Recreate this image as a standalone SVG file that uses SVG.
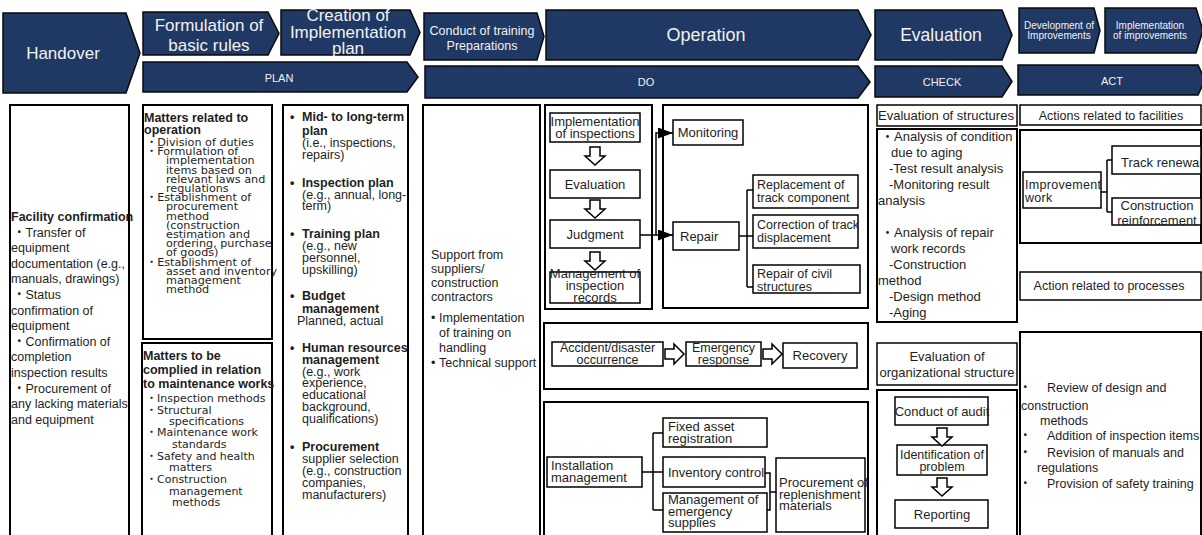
<svg xmlns="http://www.w3.org/2000/svg" width="1202" height="535" viewBox="0 0 1202 535">
<style>
  .hd { fill: #1f3864; stroke: #0a0a0a; stroke-width: 1.5; }
  .ht { fill: #f2f2f2; font-family: "Liberation Sans", "Noto Sans CJK JP", sans-serif; text-anchor: middle; }
  .ob { fill: #ffffff; stroke: #000000; stroke-width: 2; }
  .bx { fill: #ffffff; stroke: #000000; stroke-width: 1.5; }
  .t { font-family: "Liberation Sans", "Noto Sans CJK JP", sans-serif; font-size: 12.5px; fill: #1e1e1e; }
  .w { font-family: "DejaVu Sans", "Noto Sans CJK JP", sans-serif; fill: #1e1e1e; }
  .s13 { font-size: 13px; }
  .b { font-weight: bold; }
  .c { text-anchor: middle; }
  .ln { fill: none; stroke: #000000; stroke-width: 1.5; }
  .ba { fill: #ffffff; stroke: #000000; stroke-width: 1.5; stroke-linejoin: miter; }
</style>
<defs>
  <marker id="tri" markerUnits="userSpaceOnUse" markerWidth="15" markerHeight="11" refX="15" refY="5.5" orient="auto">
    <path d="M0,0 L15,5.5 L0,11 Z" fill="#000000"/>
  </marker>
  <path id="dn" d="M5,0 H15 V9 H20 L10,18 L0,9 H5 Z"/>
  <path id="rt" d="M0,5 H9 V0 L19,10 L9,20 V15 H0 Z"/>
</defs>

<rect x="0" y="0" width="1202" height="535" fill="#ffffff"/>

<!-- phase banners -->
<g id="hdr-handover">
  <polygon class="hd" points="3,13 126,13 140,53 126,93 3,93"/>
  <text class="ht" x="63" y="59" font-size="17">Handover</text>
</g>
<g id="hdr-basic-rules">
  <polygon class="hd" points="143,12 268,12 279,33.5 268,55 143,55"/>
  <text class="ht" x="209" y="31" font-size="17">Formulation of</text>
  <text class="ht" x="209" y="51" font-size="17">basic rules</text>
</g>
<g id="hdr-impl-plan">
  <polygon class="hd" points="281,10 410,10 420,32.5 410,55 281,55"/>
  <text class="ht" x="348" y="21" font-size="17">Creation of</text>
  <text class="ht" x="348" y="38" font-size="17">Implementation</text>
  <text class="ht" x="348" y="54" font-size="17">plan</text>
</g>
<g id="hdr-plan">
  <polygon class="hd" points="143,62 407,62 418,77 407,92 143,92"/>
  <text class="ht" x="279" y="82" font-size="11">PLAN</text>
</g>
<g id="hdr-training">
  <polygon class="hd" points="424,13 537,13 544,36.5 537,60 424,60"/>
  <text class="ht" x="482" y="34.5" font-size="12.5">Conduct of training</text>
  <text class="ht" x="482" y="49.5" font-size="12.5">Preparations</text>
</g>
<g id="hdr-operation">
  <polygon class="hd" points="546,10 858,10 871,35 858,60 546,60"/>
  <text class="ht" x="706" y="41" font-size="18">Operation</text>
</g>
<g id="hdr-evaluation">
  <polygon class="hd" points="875,10 1002,10 1012,35 1002,60 875,60"/>
  <text class="ht" x="941" y="41" font-size="17.5">Evaluation</text>
</g>
<g id="hdr-development">
  <polygon class="hd" points="1019,8 1094,8 1100,30.5 1094,53 1019,53"/>
  <text class="ht" x="1059" y="28.5" font-size="10">Development of</text>
  <text class="ht" x="1059" y="38.5" font-size="10">Improvements</text>
</g>
<g id="hdr-implementation">
  <polygon class="hd" points="1105,8 1196,8 1203,30.5 1196,53 1105,53"/>
  <text class="ht" x="1150" y="28.5" font-size="10">Implementation</text>
  <text class="ht" x="1150" y="38.5" font-size="10">of improvements</text>
</g>
<g id="hdr-do">
  <polygon class="hd" points="425,66 858,66 870,82 858,98 425,98"/>
  <text class="ht" x="646" y="86" font-size="11">DO</text>
</g>
<g id="hdr-check">
  <polygon class="hd" points="875,66 1002,66 1012,81.5 1002,97 875,97"/>
  <text class="ht" x="942" y="86" font-size="11">CHECK</text>
</g>
<g id="hdr-act">
  <polygon class="hd" points="1018,65 1198,65 1205,80 1198,95 1018,95"/>
  <text class="ht" x="1112" y="84.5" font-size="11">ACT</text>
</g>

<!-- handover -->
<g id="handover-body">
  <rect class="ob" x="10" y="105" width="119" height="440"/>
  <text class="t b" x="11" y="221" font-size="12">Facility confirmation</text>
  <text class="t" x="13" y="236.6">・Transfer of</text>
  <text class="t" x="11" y="252.2">equipment</text>
  <text class="t" x="11" y="267.8">documentation (e.g.,</text>
  <text class="t" x="11" y="283.4">manuals, drawings)</text>
  <text class="t" x="13" y="299">・Status</text>
  <text class="t" x="11" y="314.6">confirmation of</text>
  <text class="t" x="11" y="330.2">equipment</text>
  <text class="t" x="13" y="345.8">・Confirmation of</text>
  <text class="t" x="11" y="361.4">completion</text>
  <text class="t" x="11" y="377">inspection results</text>
  <text class="t" x="13" y="392.6">・Procurement of</text>
  <text class="t" x="11" y="408.2">any lacking materials</text>
  <text class="t" x="11" y="423.8">and equipment</text>
</g>

<!-- basic rules -->
<g id="rules-operation">
  <rect class="ob" x="143" y="105" width="129" height="234"/>
  <text class="t b" x="144" y="122" font-size="12">Matters related to</text>
  <text class="t b" x="144" y="134" font-size="12">operation</text>
  <g class="w" font-size="11.2">
    <text x="146" y="146">・Division of duties</text>
    <text x="146" y="155.2">・Formulation of</text>
    <text x="166" y="164.4">implementation</text>
    <text x="166" y="173.6">items based on</text>
    <text x="166" y="182.8">relevant laws and</text>
    <text x="166" y="192">regulations</text>
    <text x="146" y="201.2">・Establishment of</text>
    <text x="166" y="210.4">procurement</text>
    <text x="166" y="219.6">method</text>
    <text x="166" y="228.8">(construction</text>
    <text x="166" y="238">estimation and</text>
    <text x="166" y="247.2">ordering, purchase</text>
    <text x="166" y="256.4">of goods)</text>
    <text x="146" y="265.6">・Establishment of</text>
    <text x="166" y="274.8">asset and inventory</text>
    <text x="166" y="284">management</text>
    <text x="166" y="293.2">method</text>
  </g>
</g>
<g id="rules-maintenance">
  <rect class="ob" x="142" y="343" width="130" height="200"/>
  <text class="t b" x="143" y="360" font-size="12.3">Matters to be</text>
  <text class="t b" x="143" y="374" font-size="12.3">complied in relation</text>
  <text class="t b" x="143" y="388" font-size="12.3">to maintenance works</text>
  <g class="w" font-size="11">
    <text x="146" y="402">・Inspection methods</text>
    <text x="146" y="414">・Structural</text>
    <text x="169" y="425">specifications</text>
    <text x="146" y="436">・Maintenance work</text>
    <text x="172" y="447.5">standards</text>
    <text x="146" y="459.5">・Safety and health</text>
    <text x="169" y="470.5">matters</text>
    <text x="146" y="482.5">・Construction</text>
    <text x="169" y="494.5">management</text>
    <text x="172" y="506">methods</text>
  </g>
</g>

<!-- implementation plan -->
<g id="plan-items">
  <rect class="ob" x="283" y="105" width="125" height="440"/>
  <text class="t b" x="290" y="121">•</text>
  <text class="t b" x="302" y="121">Mid- to long-term</text>
  <text class="t b" x="302" y="135">plan</text>
  <text class="t" x="302" y="147">(i.e., inspections,</text>
  <text class="t" x="302" y="159">repairs)</text>
  <text class="t b" x="290" y="187">•</text>
  <text class="t b" x="302" y="187">Inspection plan</text>
  <text class="t" x="302" y="199">(e.g., annual, long-</text>
  <text class="t" x="302" y="210">term)</text>
  <text class="t b" x="290" y="238">•</text>
  <text class="t b" x="302" y="238">Training plan</text>
  <text class="t" x="302" y="250">(e.g., new</text>
  <text class="t" x="302" y="262">personnel,</text>
  <text class="t" x="302" y="274">upskilling)</text>
  <text class="t b" x="290" y="300">•</text>
  <text class="t b" x="302" y="300">Budget</text>
  <text class="t b" x="302" y="313">management</text>
  <text class="t" x="297" y="325">Planned, actual</text>
  <text class="t b" x="290" y="352">•</text>
  <text class="t b" x="302" y="352">Human resources</text>
  <text class="t b" x="302" y="364">management</text>
  <text class="t" x="302" y="376">(e.g., work</text>
  <text class="t" x="302" y="387">experience,</text>
  <text class="t" x="302" y="399">educational</text>
  <text class="t" x="302" y="411">background,</text>
  <text class="t" x="302" y="423">qualifications)</text>
  <text class="t b" x="290" y="451">•</text>
  <text class="t b" x="302" y="451">Procurement</text>
  <text class="t" x="302" y="463">supplier selection</text>
  <text class="t" x="302" y="475">(e.g., construction</text>
  <text class="t" x="302" y="487">companies,</text>
  <text class="t" x="302" y="499">manufacturers)</text>
</g>

<!-- training support -->
<g id="training-support">
  <rect class="ob" x="423" y="105" width="117" height="440"/>
  <text class="t" x="431" y="259">Support from</text>
  <text class="t" x="431" y="273">suppliers/</text>
  <text class="t" x="431" y="287">construction</text>
  <text class="t" x="431" y="301">contractors</text>
  <text class="t" x="431" y="322">•</text>
  <text class="t" x="439" y="322">Implementation</text>
  <text class="t" x="439" y="337">of training on</text>
  <text class="t" x="439" y="352">handling</text>
  <text class="t" x="431" y="367">•</text>
  <text class="t" x="439" y="367">Technical support</text>
</g>

<!-- operation: inspection cycle -->
<g id="op-inspection-frame"><rect class="ob" x="545" y="105" width="107" height="204"/></g>
<g id="op-repair-frame"><rect class="ob" x="663" y="105" width="205" height="203"/></g>
<g id="op-implementation">
  <rect class="bx" x="550" y="113" width="90" height="29"/>
  <text class="t s13 c" x="595" y="126">Implementation</text>
  <text class="t s13 c" x="595" y="138">of inspections</text>
</g>
<g id="op-evaluation">
  <rect class="bx" x="550" y="170" width="90" height="28"/>
  <text class="t s13 c" x="595" y="188.5">Evaluation</text>
</g>
<g id="op-judgment">
  <rect class="bx" x="550" y="220" width="90" height="28"/>
  <text class="t s13 c" x="595" y="238.5">Judgment</text>
</g>
<g id="op-records">
  <rect class="bx" x="550" y="272" width="90" height="31"/>
  <text class="t s13 c" x="595" y="278">Management of</text>
  <text class="t s13 c" x="595" y="290">inspection</text>
  <text class="t s13 c" x="595" y="301.5">records</text>
</g>
<g id="op-monitoring">
  <rect class="bx" x="673" y="120" width="70" height="25"/>
  <text class="t s13 c" x="708" y="137">Monitoring</text>
</g>
<g id="op-repair">
  <rect class="bx" x="673" y="222" width="66" height="28"/>
  <text class="t s13" x="680" y="240.5">Repair</text>
</g>
<g id="op-replacement">
  <rect class="bx" x="753" y="175" width="105" height="33"/>
  <text class="t" x="757" y="189">Replacement of</text>
  <text class="t" x="757" y="202">track component</text>
</g>
<g id="op-correction">
  <rect class="bx" x="753" y="215" width="105" height="33"/>
  <text class="t" x="757" y="229">Correction of track</text>
  <text class="t" x="757" y="242">displacement</text>
</g>
<g id="op-civil">
  <rect class="bx" x="753" y="265" width="107" height="28"/>
  <text class="t" x="757" y="278">Repair of civil</text>
  <text class="t" x="757" y="291">structures</text>
</g>

<!-- operation: emergency -->
<g id="op-emergency-frame"><rect class="ob" x="544" y="323" width="324" height="66"/></g>
<g id="op-accident">
  <rect class="bx" x="552" y="342" width="111" height="24"/>
  <text class="t c" x="607.5" y="352" font-size="13">Accident/disaster</text>
  <text class="t c" x="607.5" y="363.5">occurrence</text>
</g>
<g id="op-response">
  <rect class="bx" x="686" y="342" width="75" height="24"/>
  <text class="t c" x="723.5" y="352">Emergency</text>
  <text class="t c" x="723.5" y="363.5">response</text>
</g>
<g id="op-recovery">
  <rect class="bx" x="783" y="343" width="74" height="25"/>
  <text class="t s13 c" x="820" y="360">Recovery</text>
</g>

<!-- operation: installation -->
<g id="op-install-frame"><rect class="ob" x="544" y="402" width="324" height="145"/></g>
<g id="op-install">
  <rect class="bx" x="547" y="457" width="95" height="30"/>
  <text class="t s13" x="551" y="469.5">Installation</text>
  <text class="t s13" x="551" y="481.5">management</text>
</g>
<g id="op-fixed-asset">
  <rect class="bx" x="663" y="418" width="104" height="29"/>
  <text class="t s13" x="668" y="431">Fixed asset</text>
  <text class="t s13" x="668" y="442.5">registration</text>
</g>
<g id="op-inventory">
  <rect class="bx" x="663" y="457" width="102" height="30"/>
  <text class="t s13" x="668" y="476.5">Inventory control</text>
</g>
<g id="op-supplies">
  <rect class="bx" x="663" y="493" width="104" height="39"/>
  <text class="t s13" x="668" y="504">Management of</text>
  <text class="t s13" x="668" y="515.5">emergency</text>
  <text class="t s13" x="668" y="527">supplies</text>
</g>
<g id="op-replenish">
  <rect class="bx" x="776" y="458" width="89" height="74"/>
  <text class="t s13" x="779" y="487">Procurement of</text>
  <text class="t s13" x="779" y="498.5">replenishment</text>
  <text class="t s13" x="779" y="510">materials</text>
</g>

<!-- evaluation -->
<g id="ev-structures-title">
  <rect class="bx" x="877" y="105" width="140" height="21"/>
  <text class="t s13 c" x="946" y="120">Evaluation of structures</text>
</g>
<g id="ev-structures">
  <rect class="ob" x="877" y="129" width="140" height="193"/>
  <text class="t s13" x="881" y="141">・Analysis of condition</text>
  <text class="t s13" x="891" y="156.5">due to aging</text>
  <text class="t s13" x="889" y="172.5">-Test result analysis</text>
  <text class="t s13" x="889" y="189">-Monitoring result</text>
  <text class="t s13" x="878" y="204.5">analysis</text>
  <text class="t s13" x="881" y="237">・Analysis of repair</text>
  <text class="t s13" x="891" y="252.5">work records</text>
  <text class="t s13" x="889" y="268.5">-Construction</text>
  <text class="t s13" x="878" y="284.5">method</text>
  <text class="t s13" x="889" y="300.5">-Design method</text>
  <text class="t s13" x="889" y="316.5">-Aging</text>
</g>
<g id="ev-org-title">
  <rect class="bx" x="877" y="343" width="140" height="42"/>
  <text class="t s13 c" x="947" y="361">Evaluation of</text>
  <text class="t s13 c" x="947" y="377">organizational structure</text>
</g>
<g id="ev-org-frame"><rect class="ob" x="877" y="390" width="140" height="155"/></g>
<g id="ev-audit">
  <rect class="bx" x="895" y="397" width="93" height="28"/>
  <text class="t s13 c" x="942" y="415.5">Conduct of audit</text>
</g>
<g id="ev-problem">
  <rect class="bx" x="897" y="445" width="90" height="30"/>
  <text class="t c" x="942" y="458.5">Identification of</text>
  <text class="t c" x="942" y="471">problem</text>
</g>
<g id="ev-reporting">
  <rect class="bx" x="895" y="500" width="93" height="28"/>
  <text class="t s13 c" x="942" y="518.5">Reporting</text>
</g>

<!-- act -->
<g id="act-facilities-title">
  <rect class="bx" x="1020" y="105" width="181" height="20"/>
  <text class="t c" x="1111" y="119.5" font-size="12.8">Actions related to facilities</text>
</g>
<g id="act-facilities-frame"><rect class="ob" x="1020" y="130" width="181" height="113"/></g>
<g id="act-improvement">
  <rect class="bx" x="1023" y="172" width="78" height="36"/>
  <text class="t" x="1025" y="189" font-size="11" letter-spacing="0.3">Improvement</text>
  <text class="t" x="1025" y="202" font-size="11" letter-spacing="0.3">work</text>
</g>
<g id="act-track">
  <rect class="bx" x="1112" y="146" width="89" height="28"/>
  <text class="t s13" x="1121" y="166.5">Track renewal</text>
</g>
<g id="act-reinforce">
  <rect class="bx" x="1112" y="198" width="89" height="27"/>
  <text class="t s13 c" x="1157" y="209.5">Construction</text>
  <text class="t s13 c" x="1157" y="225">reinforcement</text>
</g>
<g id="act-process-title">
  <rect class="bx" x="1020" y="272" width="181" height="28"/>
  <text class="t c" x="1109" y="290" font-size="12.8">Action related to processes</text>
</g>
<g id="act-process">
  <rect class="ob" x="1020" y="332" width="181" height="215"/>
  <text class="t" x="1019" y="391.5">・</text>
  <text class="t" x="1047" y="391.5">Review of design and</text>
  <text class="t" x="1021" y="409.5">construction</text>
  <text class="t" x="1040" y="424.5">methods</text>
  <text class="t" x="1019" y="439.5">・</text>
  <text class="t" x="1047" y="439.5">Addition of inspection items</text>
  <text class="t" x="1019" y="456.5">・</text>
  <text class="t" x="1047" y="456.5">Revision of manuals and</text>
  <text class="t" x="1037" y="471.5">regulations</text>
  <text class="t" x="1019" y="488">・</text>
  <text class="t" x="1047" y="488">Provision of safety training</text>
</g>

<!-- connectors -->
<g id="connectors">
  <use href="#dn" class="ba" x="585" y="147"/>
  <use href="#dn" class="ba" x="585" y="200"/>
  <use href="#dn" class="ba" x="585" y="252"/>
  <path class="ln" d="M640,235 H656"/>
  <path class="ln" d="M656,235 V133 H673" marker-end="url(#tri)"/>
  <path class="ln" d="M656,235 H673" marker-end="url(#tri)"/>
  <path class="ln" d="M739,236 H753 M747,190 V287 M747,190 H753 M747,287 H753"/>
  <use href="#rt" class="ba" x="665" y="344"/>
  <use href="#rt" class="ba" x="763" y="344"/>
  <path class="ln" d="M642,472 H663 M653,433 V510 M653,433 H663 M653,510 H663"/>
  <path class="ln" d="M765,473 H770 V510 H767 M770,492 H776"/>
  <use href="#dn" class="ba" x="932" y="428"/>
  <use href="#dn" class="ba" x="932" y="478"/>
  <path class="ln" d="M1101,192 H1107 M1107,160 V212 M1107,160 H1112 M1107,212 H1112"/>
</g>
</svg>
